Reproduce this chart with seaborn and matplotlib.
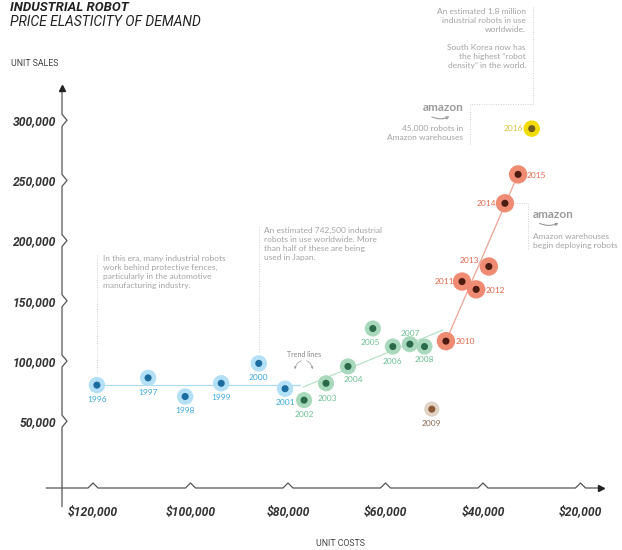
"""Industrial robot price elasticity of demand, redrawn with seaborn."""
import matplotlib.pyplot as plt
import numpy as np
import pandas as pd
import seaborn as sns

# ---- data ----
years = list(range(1996, 2017))
unit_costs = [119200, 108700, 101100, 93700, 86000, 80600, 76700, 72200, 67700,
              62600, 58500, 55000, 52000, 50500, 47600, 44300, 41400, 38800,
              35500, 32800, 30000]
unit_sales = [80000, 86000, 70500, 81500, 98000, 77000, 67500, 81500, 95500,
              127000, 112000, 114000, 112000, 60000, 116500, 166000, 159500,
              178500, 231000, 255000, 293000]
eras = ["early"] * 6 + ["mid"] * 7 + ["dip"] + ["late"] * 6 + ["peak"]

y_ticks = [50000, 100000, 150000, 200000, 250000, 300000]
y_ticklabels = ["50,000", "100,000", "150,000", "200,000", "250,000", "300,000"]
x_ticks = [120000, 100000, 80000, 60000, 40000, 20000]
x_ticklabels = [r"\$120,000", r"\$100,000", r"\$80,000", r"\$60,000",
                r"\$40,000", r"\$20,000"]

trend_early_cost = [119200, 77500]
trend_early_sales = [80000, 80000]
trend_mid_cost = [76900, 48200]
trend_mid_sales = [78400, 125700]
trend_late_cost = [47600, 32800]
trend_late_sales = [116500, 255000]

# ---- styling ----
halo = {"early": "#b3e0f6", "mid": "#a9d9bc", "dip": "#e0d3c6",
        "late": "#ef8b72", "peak": "#f2dc06"}
core = {"early": "#1d6c9f", "mid": "#2c6a4c", "dip": "#8c5b35",
        "late": "#4c1c12", "peak": "#6e5c22"}
label_col = {"early": "#3aa9dc", "mid": "#6cbf94", "dip": "#8a6a50",
             "late": "#e4684d", "peak": "#dcc23a"}
halo_size = {"early": 140, "mid": 135, "dip": 120, "late": 175, "peak": 140}
# label offsets in pixels (dx, dy, ha)
label_pos = {1996: (0, -14, "center"), 1997: (0, -15, "center"),
             1998: (0, -14, "center"), 1999: (0, -14, "center"),
             2000: (0, -14, "center"), 2001: (0, -14, "center"),
             2002: (0, -14, "center"), 2003: (1, -15, "center"),
             2004: (5, -13, "center"), 2005: (-2, -14, "center"),
             2006: (0, -15, "center"), 2007: (1, 11, "center"),
             2008: (0, -13, "center"), 2009: (0, -14, "center"),
             2010: (10, 0, "left"), 2011: (-8, 0, "right"),
             2012: (9, -1, "left"), 2013: (-10, 6, "right"),
             2014: (-9, 0, "right"), 2015: (9, -1, "left"),
             2016: (-9, 0, "right")}

GREY = "#a3a3a3"
AXIS = "#555555"

sns.set_style("white")
plt.rcParams["font.family"] = ["Lato", "DejaVu Sans"]

df = pd.DataFrame({"year": years, "cost": unit_costs, "sales": unit_sales,
                   "era": eras})

fig = plt.figure(figsize=(6.22, 5.50), dpi=100)
ax = fig.add_axes([62 / 622, 1 - 488 / 550, (615 - 62) / 622, (488 - 80) / 550])
XL, XR = 126360, 12920
YB, YT = -5480, 333400
ax.set_xlim(XL, XR)
ax.set_ylim(YB, YT)
for s in ax.spines.values():
    s.set_visible(False)

# trend lines
for cx, cy, col in [(trend_early_cost, trend_early_sales, "#a8dcf3"),
                    (trend_mid_cost, trend_mid_sales, "#b7e1c8"),
                    (trend_late_cost, trend_late_sales, "#f0a393")]:
    sns.lineplot(x=cx, y=cy, color=col, lw=0.9, sort=False, estimator=None,
                 ax=ax)

# dots: halo + core
sns.scatterplot(data=df, x="cost", y="sales", hue="era", palette=halo,
                size="era", sizes=halo_size, linewidth=0, legend=False,
                ax=ax, zorder=3)
sns.scatterplot(data=df, x="cost", y="sales", hue="era", palette=core,
                s=26, linewidth=0, legend=False, ax=ax, zorder=4)

for _, r in df.iterrows():
    dx, dy, ha = label_pos[r["year"]]
    ax.annotate(str(r["year"]), (r["cost"], r["sales"]), xytext=(dx, dy),
                textcoords="offset pixels", ha=ha, va="center",
                fontsize=6, color=label_col[r["era"]], zorder=5)

# ---- hand-drawn axes with chevrons ----
px_x = 20000 / 97.5   # cost units per pixel
px_y = 50000 / 60.2   # sales units per pixel
yx, yy = [XL], [-21000]
for v in y_ticks:
    yx += [XL, XL - 5 * px_x, XL]
    yy += [v - 6 * px_y, v, v + 6 * px_y]
yx.append(XL); yy.append(326700)
ax.plot(yx, yy, color=AXIS, lw=0.9, clip_on=False, zorder=2)
ax.plot([XL], [326700], marker="^", ms=4, color="#222222", clip_on=False)

xx, xy = [129600], [YB]
for c in x_ticks:
    xx += [c + 5 * px_x, c, c - 5 * px_x]
    xy += [YB, YB + 5 * px_y, YB]
xx.append(15800); xy.append(YB)
ax.plot(xx, xy, color=AXIS, lw=0.9, clip_on=False, zorder=2)
ax.plot([15800], [YB], marker=">", ms=4, color="#222222", clip_on=False)

ax.set_xticks(x_ticks)
ax.set_xticklabels(x_ticklabels)
ax.set_yticks(y_ticks)
ax.set_yticklabels(y_ticklabels)
ax.tick_params(length=0)
ax.tick_params(axis="x", pad=12)
ax.tick_params(axis="y", pad=4)
for t in ax.get_xticklabels() + ax.get_yticklabels():
    t.set_family(["Roboto", "DejaVu Sans"])
    t.set_fontweight("bold")
    t.set_fontstyle("italic")
    t.set_fontsize(8.7)
    t.set_color("#333333")
ax.set_xlabel("")
ax.set_ylabel("")

# ---- annotations ----
note = dict(fontsize=6, color=GREY, linespacing=1.35, va="top")
dot = dict(color="#cfcfcf", lw=0.7, ls=(0, (1, 1.5)), clip_on=False)
smile = dict(arrowstyle="-|>", color="#9a9a9a", lw=0.8, mutation_scale=4)

ax.text(117950, 188000, "In this era, many industrial robots\nwork behind protective fences,\n"
        "particularly in the automotive\nmanufacturing industry.", ha="left", **note)
ax.plot([119200, 119200], [188000, 89000], **dot)

ax.text(84900, 211300, "An estimated 742,500 industrial\nrobots in use worldwide. More\n"
        "than half of these are being\nused in Japan.", ha="left", **note)
ax.plot([86000, 86000], [211300, 107000], **dot)

ax.text(31200, 393000, "An estimated 1.8 million\nindustrial robots in use\nworldwide.",
        ha="right", clip_on=False, **note)
ax.text(31200, 363300, "South Korea now has\nthe highest \u201crobot\ndensity\u201d in the world.",
        ha="right", clip_on=False, **note)
ax.plot([29750, 29750], [394000, 313500], **dot)
ax.plot([29750, 42670, 42670], [313500, 313500, 279400], **dot)

ax.text(44100, 310200, "amazon", ha="right", va="center", fontsize=8.5,
        fontweight="bold", color="#9a9a9a")
ax.annotate("", xy=(46400, 304300), xytext=(51000, 303800),
            arrowprops=dict(connectionstyle="arc3,rad=0.3", **smile))
ax.text(44100, 296000, "45,000 robots in\nAmazon warehouses", ha="right", **note)

ax.text(29750, 221300, "amazon", ha="left", va="center", fontsize=8.5,
        fontweight="bold", color="#9a9a9a")
ax.annotate("", xy=(24000, 215900), xytext=(28900, 215400),
            arrowprops=dict(connectionstyle="arc3,rad=0.3", **smile))
ax.text(29750, 206500, "Amazon warehouses\nbegin deploying robots", ha="left", **note)
ax.plot([33700, 30770, 30770], [231200, 231200, 192200], **dot)

ax.text(76700, 105800, "Trend lines", ha="center", va="center", fontsize=5,
        color="#888888")
for tip, rad in ((78600, 0.4), (75000, -0.4)):
    ax.annotate("", xy=(tip, 90900), xytext=(76700, 101000),
                arrowprops=dict(arrowstyle="-|>", color="#999999", lw=0.5,
                                mutation_scale=3,
                                connectionstyle="arc3,rad=%s" % rad))

# ---- titles ----
fig.text(10 / 622, 1 - 11 / 550, "INDUSTRIAL ROBOT", fontsize=9.5, fontweight="bold",
         fontstyle="italic", color="#222222", va="baseline",
         family=["Roboto", "DejaVu Sans"])
fig.text(10 / 622, 1 - 26 / 550, "PRICE ELASTICITY OF DEMAND", fontsize=10,
         fontstyle="italic", color="#222222", va="baseline",
         family=["Roboto", "DejaVu Sans"])
fig.text(11 / 622, 1 - 66 / 550, "UNIT SALES", fontsize=6.3, color="#444444",
         va="baseline", family=["Roboto", "DejaVu Sans"])
fig.text(340 / 622, 1 - 546 / 550, "UNIT COSTS", fontsize=6.3, color="#444444",
         va="baseline", ha="center", family=["Roboto", "DejaVu Sans"])

fig.savefig("out.png", dpi=100)
